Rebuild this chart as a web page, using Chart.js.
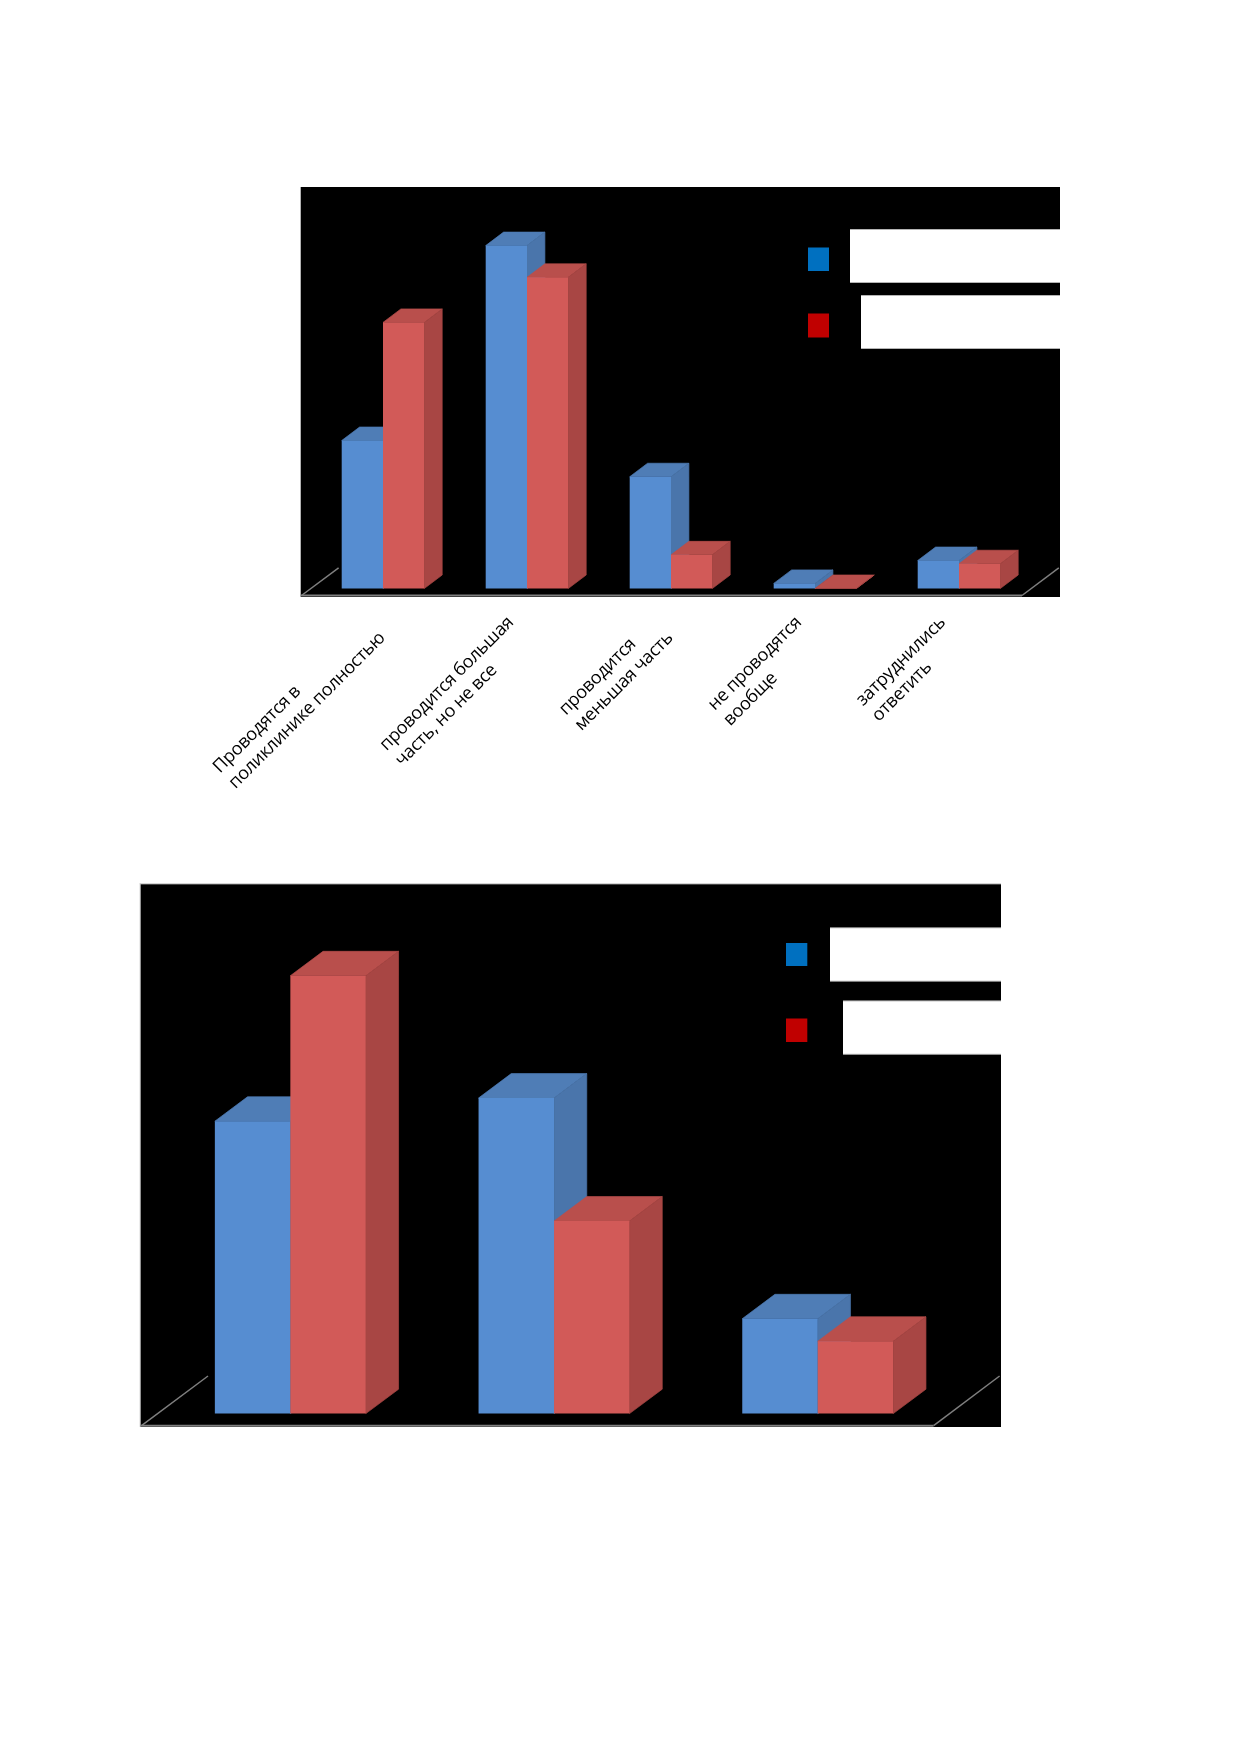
<!DOCTYPE html>
<html><head><meta charset="utf-8">
<style>html,body{margin:0;padding:0;background:#fff}canvas{position:absolute;left:0;top:0}</style>
<script src="https://cdn.jsdelivr.net/npm/chart.js@4"></script>
</head><body>
<canvas id="c1" width="1239" height="1752"></canvas>
<canvas id="c2" width="1239" height="1752"></canvas>
<script>
const categoriesTop = [
  ["Проводятся в","поликлинике полностью"],
  ["проводится большая","часть, но не все"],
  ["проводится","меньшая часть"],
  ["не проводятся","вообще"],
  ["затруднились","ответить"]
];
const blueTop = [23.3, 54.0, 17.6, 0.8, 4.4];
const redTop  = [41.9, 49.0, 5.3, 0, 3.9];

const categoriesBottom = ["1","2","3"];
const blueBottom = [41.6, 44.9, 13.5];
const redBottom  = [62.3, 27.4, 10.3];

const FACE = {
  blue:{front:"#568dd1",top:"#4f7db6",side:"#4a75ab"},
  red:{front:"#d25a58",top:"#b94f4c",side:"#a84644"}
};

const layoutTop = {
  black:[300.7,187,1060,597], area:[311,207.5,1031,588.5], max:60, cat:0.5736, depth:[17.9,13.5],
  axisEnd:1022, axisY:595.5, floor:[[301.5,595.5,338.6,567.8],[1022,595.5,1058.8,567.8]],
  legend:[
    {sq:[808,247.5,829,271],color:"#0070c0",box:[850,230,1060,282]},
    {sq:[808,313.5,829,337.5],color:"#c00000",box:[861,296,1060,348]}
  ],
  labels:{dx:-8.5,y:627.5,lh:22,font:"18px 'Open Sans'",spacing:"-0.3px"},
  frame:false
};
const layoutBottom = {
  black:[140.7,884.3,1001,1427], area:[158.5,921.6,949.6,1413.6], max:70, cat:0.5726, depth:[32.7,24.4],
  axisEnd:933.6, axisY:1425.7, floor:[[141.5,1425.7,208,1376],[933.6,1425.7,999.6,1376]],
  legend:[
    {sq:[786,943,807.3,966],color:"#0070c0",box:[830,928.3,1001,980.7]},
    {sq:[786,1018.5,807.3,1042],color:"#c00000",box:[843,1001.4,1001,1053.8]}
  ],
  labels:null,
  frame:true
};

function poly(ctx,pts,fill){
  ctx.beginPath();
  pts.forEach((p,i)=>i?ctx.lineTo(p[0],p[1]):ctx.moveTo(p[0],p[1]));
  ctx.closePath();
  ctx.fillStyle=fill; ctx.fill();
  ctx.strokeStyle=fill; ctx.lineWidth=0.7; ctx.stroke();
}

function pseudo3d(L){
  return {
    id:"pseudo3d",
    beforeDraw(chart){
      const c=chart.ctx, b=L.black;
      c.save();
      if(L.frame){
        c.fillStyle="#c4c4c4";
        c.fillRect(b[0]-1,b[1]-1,b[2]-b[0]+1,1);
        c.fillRect(b[0]-1,b[1]-1,1,b[3]-b[1]+1);
      }
      c.fillStyle="#000"; c.fillRect(b[0],b[1],b[2]-b[0],b[3]-b[1]);
      c.strokeStyle="#7f7f7f"; c.lineWidth=1.5;
      L.floor.forEach(f=>{c.beginPath();c.moveTo(f[0],f[1]);c.lineTo(f[2],f[3]);c.stroke();});
      c.lineWidth=2;
      c.beginPath();c.moveTo(b[0],L.axisY);c.lineTo(L.axisEnd,L.axisY);c.stroke();
      L.legend.forEach(l=>{
        c.fillStyle=l.color; c.fillRect(l.sq[0],l.sq[1],l.sq[2]-l.sq[0],l.sq[3]-l.sq[1]);
        c.fillStyle="#b4b4b4"; c.fillRect(l.box[0],l.box[1]-1,l.box[2]-l.box[0],l.box[3]-l.box[1]+2);
        c.fillStyle="#fff"; c.fillRect(l.box[0],l.box[1],l.box[2]-l.box[0],l.box[3]-l.box[1]);
      });
      c.restore();
    },
    beforeDatasetDraw(){ return false; },
    afterDatasetsDraw(chart){
      const c=chart.ctx, [dx,dy]=L.depth;
      c.save();
      chart.data.datasets.forEach((ds,i)=>{
        const faces=i===0?FACE.blue:FACE.red;
        chart.getDatasetMeta(i).data.forEach(el=>{
          const p=el.getProps(["x","y","base","width"],true);
          const l=p.x-p.width/2, r=p.x+p.width/2;
          poly(c,[[l,p.y],[l+dx,p.y-dy],[r+dx,p.y-dy],[r,p.y]],faces.top);
          poly(c,[[r,p.y],[r+dx,p.y-dy],[r+dx,p.base-dy],[r,p.base]],faces.side);
          el.draw(c);
        });
      });
      c.restore();
    },
    afterDraw(chart){
      if(!L.labels) return;
      const c=chart.ctx, t=L.labels, x=chart.scales.x;
      c.save();
      c.font=t.font; c.letterSpacing=t.spacing; c.fillStyle="#000"; c.textAlign="left"; c.textBaseline="middle";
      chart.data.labels.forEach((lines,i)=>{
        const w=Math.max(...lines.map(s=>c.measureText(s).width));
        c.save();
        c.translate(x.getPixelForTick(i)+t.dx,t.y);
        c.rotate(-Math.PI/4);
        lines.forEach((s,k)=>c.fillText(s,-w,(k-(lines.length-1)/2)*t.lh));
        c.restore();
      });
      c.restore();
    }
  };
}

function build(id,labels,blue,red,L){
  new Chart(document.getElementById(id),{
    type:"bar",
    data:{labels,datasets:[
      {label:"Серия 1",data:blue,backgroundColor:FACE.blue.front,borderWidth:0,categoryPercentage:L.cat,barPercentage:1},
      {label:"Серия 2",data:red,backgroundColor:FACE.red.front,borderWidth:0,categoryPercentage:L.cat,barPercentage:1}
    ]},
    options:{
      responsive:false,animation:false,devicePixelRatio:1,
      layout:{padding:{left:L.area[0],top:L.area[1],right:1239-L.area[2],bottom:1752-L.area[3]}},
      plugins:{legend:{display:false},tooltip:{enabled:false},title:{display:false}},
      scales:{
        x:{display:false,grid:{display:false}},
        y:{display:false,min:0,max:L.max,grid:{display:false}}
      }
    },
    plugins:[pseudo3d(L)]
  });
}
document.fonts.load("18px 'Open Sans'").finally(()=>{
  build("c1",categoriesTop,blueTop,redTop,layoutTop);
  build("c2",categoriesBottom,blueBottom,redBottom,layoutBottom);
});
</script>
</body></html>
